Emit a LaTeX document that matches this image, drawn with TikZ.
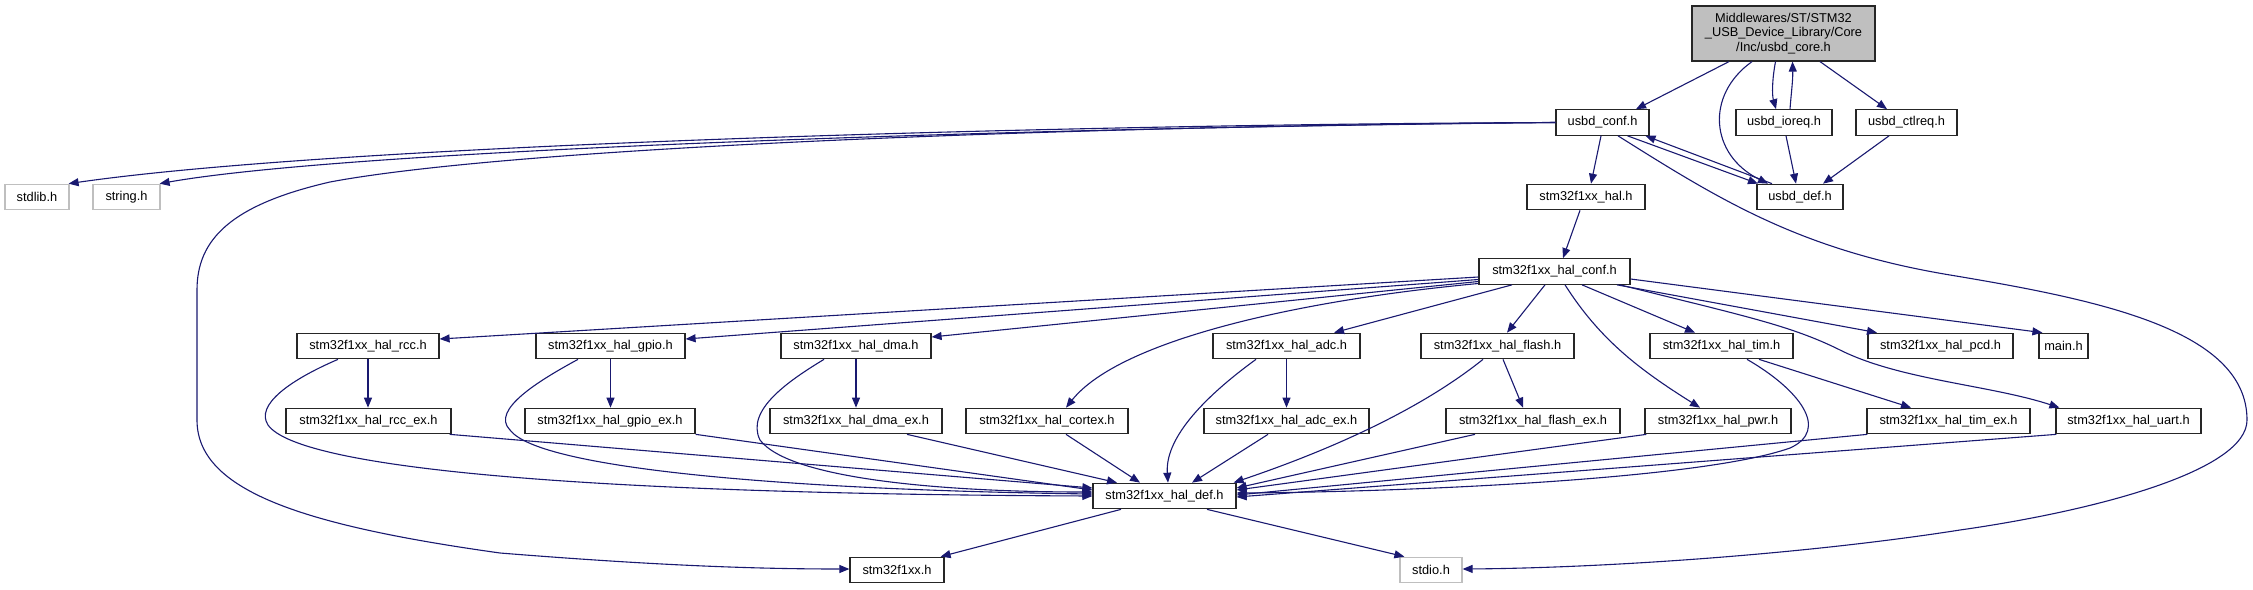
\documentclass[tikz,border=0pt]{standalone}
\usepackage{fontspec}
\setmainfont{Liberation Sans}
\usetikzlibrary{arrows.meta}
\definecolor{edgeblue}{HTML}{191970}
\definecolor{grayfill}{HTML}{BFBFBF}
\definecolor{grayline}{HTML}{BFBFBF}
\tikzset{
  filebox/.style={draw=black!85, line width=1.2pt, fill=white, inner sep=0pt, minimum height=25.5pt,
    font=\fontsize{12.8pt}{14.5pt}\selectfont},
  sysbox/.style={filebox, draw=grayline},
  rootbox/.style={filebox, fill=grayfill, align=center, minimum height=55pt},
  dep/.style={draw=edgeblue, line width=1.1pt, -{Triangle[length=10pt,width=8pt]}, fill=none},
}
\begin{document}
\begin{tikzpicture}[x=1pt,y=-1pt]
\useasboundingbox (0,0) rectangle (2253,589);
% row 1
\node[rootbox, minimum width=183pt] (core) at (1783.5,33.5) {Middlewares/ST/STM32\\\_USB\_Device\_Library/Core\\/Inc/usbd\_core.h};
% row 2
\node[filebox, minimum width=93pt] (conf) at (1602.5,122.5) {usbd\_conf.h};
\node[filebox, minimum width=96pt] (ioreq) at (1784,122.5) {usbd\_ioreq.h};
\node[filebox, minimum width=101pt] (ctlreq) at (1906.5,122.5) {usbd\_ctlreq.h};
% row 3
\node[sysbox, minimum width=64pt] (stdlib) at (37,197) {stdlib.h};
\node[sysbox, minimum width=67pt] (string) at (126.5,197) {string.h};
\node[filebox, minimum width=118pt] (hal) at (1586,197) {stm32f1xx\_hal.h};
\node[filebox, minimum width=86pt] (def) at (1800,197) {usbd\_def.h};
% row 4
\node[filebox, minimum width=151pt] (halconf) at (1554.5,271.5) {stm32f1xx\_hal\_conf.h};
% row 5
\node[filebox, minimum width=142pt] (rcc) at (368,346) {stm32f1xx\_hal\_rcc.h};
\node[filebox, minimum width=149pt] (gpio) at (610.5,346) {stm32f1xx\_hal\_gpio.h};
\node[filebox, minimum width=150pt] (dma) at (856,346) {stm32f1xx\_hal\_dma.h};
\node[filebox, minimum width=147pt] (adc) at (1286.5,346) {stm32f1xx\_hal\_adc.h};
\node[filebox, minimum width=153pt] (flash) at (1497.5,346) {stm32f1xx\_hal\_flash.h};
\node[filebox, minimum width=143pt] (tim) at (1721.5,346) {stm32f1xx\_hal\_tim.h};
\node[filebox, minimum width=145pt] (pcd) at (1940.5,346) {stm32f1xx\_hal\_pcd.h};
\node[filebox, minimum width=49pt] (main) at (2063.5,346) {main.h};
% row 6
\node[filebox, minimum width=165pt] (rccex) at (368.5,421) {stm32f1xx\_hal\_rcc\_ex.h};
\node[filebox, minimum width=170pt] (gpioex) at (610,421) {stm32f1xx\_hal\_gpio\_ex.h};
\node[filebox, minimum width=172pt] (dmaex) at (856,421) {stm32f1xx\_hal\_dma\_ex.h};
\node[filebox, minimum width=162pt] (cortex) at (1047,421) {stm32f1xx\_hal\_cortex.h};
\node[filebox, minimum width=165pt] (adcex) at (1286.5,421) {stm32f1xx\_hal\_adc\_ex.h};
\node[filebox, minimum width=174pt] (flashex) at (1533,421) {stm32f1xx\_hal\_flash\_ex.h};
\node[filebox, minimum width=146pt] (pwr) at (1718,421) {stm32f1xx\_hal\_pwr.h};
\node[filebox, minimum width=163pt] (timex) at (1948.5,421) {stm32f1xx\_hal\_tim\_ex.h};
\node[filebox, minimum width=145pt] (uart) at (2128.5,421) {stm32f1xx\_hal\_uart.h};
% row 7
\node[filebox, minimum width=143pt] (haldef) at (1164.5,496) {stm32f1xx\_hal\_def.h};
% row 8
\node[filebox, minimum width=94pt] (f1xx) at (897,570) {stm32f1xx.h};
\node[sysbox, minimum width=62pt] (stdio) at (1431,570) {stdio.h};

% edges from usbd_core.h
\draw[dep] ([xshift=-54.5pt]core.south) -- ([xshift=33.5pt]conf.north);
\draw[dep] ([xshift=-31.5pt]core.south) .. controls (1705,95) and (1710,155) .. ([xshift=-32pt]def.north);
\draw[dep] ([xshift=-8pt]core.south) .. controls (1772,80) and (1772,95) .. ([xshift=-8pt]ioreq.north);
\draw[dep] ([xshift=6pt]ioreq.north) .. controls (1791,95) and (1793,80) .. ([xshift=9pt]core.south);
\draw[dep] ([xshift=36.5pt]core.south) -- ([xshift=-19.5pt]ctlreq.north);
\draw[dep] ([xshift=2pt]ioreq.south) -- ([xshift=-4pt]def.north);
\draw[dep] ([xshift=-17.5pt]ctlreq.south) -- ([xshift=23pt]def.north);
% usbd_conf.h
\draw[dep] ([xshift=25pt]conf.south) -- ([xshift=-42pt]def.north);
\draw[dep] ([xshift=-28pt]def.north) -- ([xshift=43pt]conf.south);
\draw[dep] (conf.west) .. controls (1100,124) and (350,143) .. ([xshift=-1pt]stdlib.north east);
\draw[dep] (conf.west) .. controls (1000,128) and (350,150) .. ([xshift=-1pt]string.north east);
\draw[dep] (conf.west) .. controls (1000,127) and (500,150) .. (330,182)
   .. controls (230,205) and (197,240) .. (197,290) -- (197,420)
   .. controls (197,490) and (300,525) .. (500,553)
   .. controls (650,565) and (750,569) .. ([yshift=1pt]f1xx.west);
\draw[dep] ([xshift=-1.5pt]conf.south) -- ([xshift=5pt]hal.north);
\draw[dep] ([xshift=15.5pt]conf.south) .. controls (1720,200) and (1800,250) .. (1950,275)
   .. controls (2100,300) and (2247,330) .. (2247,420)
   .. controls (2247,470) and (2100,510) .. (1960,530)
   .. controls (1800,555) and (1600,568) .. ([yshift=1pt]stdio.east);
% stm32f1xx_hal.h
\draw[dep] ([xshift=-6pt]hal.south) -- ([xshift=8.5pt]halconf.north);
% stm32f1xx_hal_conf.h
\draw[dep] ([yshift=-5.5pt]halconf.west) -- ([yshift=7pt]rcc.east);
\draw[dep] ([yshift=-8pt]halconf.west) -- ([yshift=7pt]gpio.east);
\draw[dep] ([yshift=-10pt]halconf.west) -- ([yshift=9pt]dma.east);
\draw[dep] ([yshift=-12pt]halconf.west) .. controls (1300,300) and (1120,340) .. ([xshift=19pt]cortex.north);
\draw[dep] ([xshift=-42.5pt]halconf.south) -- ([xshift=47.5pt]adc.north);
\draw[dep] ([xshift=-9.5pt]halconf.south) -- ([xshift=9.5pt]flash.north);
\draw[dep] ([xshift=10.5pt]halconf.south) .. controls (1600,340) and (1640,370) .. ([xshift=-18pt]pwr.north);
\draw[dep] ([xshift=27.5pt]halconf.south) -- ([xshift=-26.5pt]tim.north);
\draw[dep] ([xshift=62.5pt]halconf.south) -- ([xshift=-63.5pt]pcd.north);
\draw[dep] ([yshift=-7.5pt]halconf.east) -- ([xshift=4pt]main.north west);
\draw[dep] ([xshift=65.5pt]halconf.south) .. controls (1740,315) and (1790,325) .. (1840,350)
   .. controls (1900,380) and (1990,385) .. ([xshift=4pt]uart.north west);
% second level
\draw[dep] (rcc.south) -- (rcc.south |- rccex.north);
\draw[dep] (gpio.south) -- (gpio.south |- gpioex.north);
\draw[dep] (dma.south) -- (dma.south |- dmaex.north);
\draw[dep] (adc.south) -- (adc.south |- adcex.north);
\draw[dep] ([xshift=5.5pt]flash.south) -- ([xshift=-10pt]flashex.north);
\draw[dep] ([xshift=37.5pt]tim.south) -- ([xshift=-37.5pt]timex.north);
% into stm32f1xx_hal_def.h
\draw[dep] ([xshift=-30pt]rcc.south) .. controls (290,380) and (255,405) .. (268,425)
   .. controls (300,470) and (600,494) .. (haldef.west);
\draw[dep] ([xshift=-32.5pt]gpio.south) .. controls (540,380) and (490,410) .. (510,430)
   .. controls (540,470) and (800,490) .. ([yshift=2pt]haldef.west);
\draw[dep] ([xshift=-32pt]dma.south) .. controls (790,380) and (745,410) .. (760,440)
   .. controls (790,480) and (950,492) .. ([yshift=4pt]haldef.west);
\draw[dep] ([xshift=-2pt]rccex.south east) -- ([yshift=8pt]haldef.west);
\draw[dep] (gpioex.south east) -- ([yshift=6pt]haldef.west);
\draw[dep] ([xshift=51pt]dmaex.south) -- ([xshift=-47.5pt]haldef.north);
\draw[dep] ([xshift=19pt]cortex.south) -- ([xshift=-24.5pt]haldef.north);
\draw[dep] ([xshift=-30.5pt]adc.south) .. controls (1200,400) and (1165,440) .. ([xshift=3.5pt]haldef.north);
\draw[dep] ([xshift=-18.5pt]adcex.south) -- ([xshift=27.5pt]haldef.north);
\draw[dep] ([xshift=-14.5pt]flash.south) .. controls (1420,410) and (1330,450) .. ([xshift=-3pt]haldef.north east);
\draw[dep] ([xshift=-58pt]flashex.south) -- ([yshift=8pt]haldef.east);
\draw[dep] ([xshift=2pt]pwr.south west) -- ([yshift=6pt]haldef.east);
\draw[dep] ([xshift=25.5pt]tim.south) .. controls (1800,390) and (1830,430) .. (1790,448)
   .. controls (1700,480) and (1400,492) .. ([yshift=3pt]haldef.east);
\draw[dep] ([xshift=1pt]timex.south west) -- ([yshift=1pt]haldef.east);
\draw[dep] ([xshift=1pt]uart.south west) -- ([yshift=-1pt]haldef.east);
% out of stm32f1xx_hal_def.h
\draw[dep] ([xshift=-43.5pt]haldef.south) -- ([xshift=-4pt]f1xx.north east);
\draw[dep] ([xshift=42.5pt]haldef.south) -- ([xshift=5pt]stdio.north west);
\end{tikzpicture}
\end{document}
